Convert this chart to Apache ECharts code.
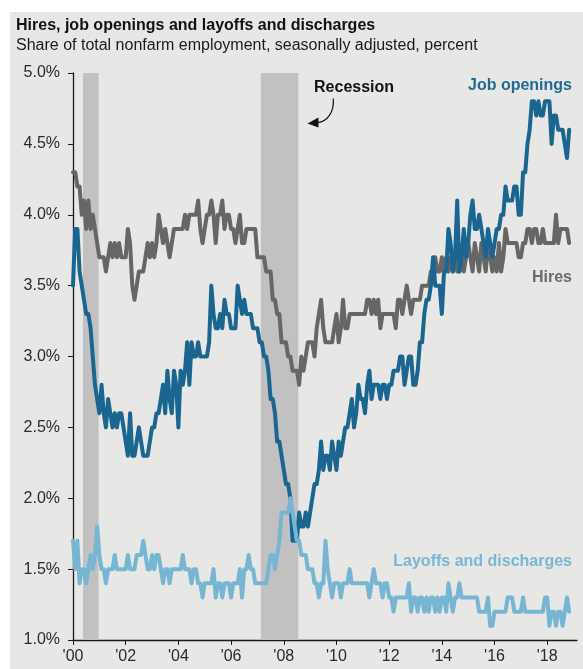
<!DOCTYPE html>
<html>
<head>
<meta charset="utf-8">
<script src="https://cdn.jsdelivr.net/npm/echarts@6/dist/echarts.min.js"></script>
<style>
  html, body { margin: 0; padding: 0; background: #ffffff; }
  #panel { position: absolute; left: 10px; top: 12px; width: 573px; height: 657px; background: #e7e7e5; }
  #chart { position: absolute; left: 0; top: 0; width: 583px; height: 669px; }
</style>
</head>
<body>
<div id="panel"></div>
<div id="chart"></div>
<script>
// Monthly JOLTS rates, % of total nonfarm employment (one row per year, '00 … '18)
const hires = [
  [4.3,4.3,4.2,4.2,4.0,4.1,3.9,4.1,3.9,4.0,3.9,3.8],
  [3.7,3.7,3.7,3.6,3.7,3.8,3.7,3.8,3.7,3.8,3.7,3.7],
  [3.7,3.9,3.8,3.5,3.4,3.5,3.6,3.6,3.6,3.7,3.8,3.7],
  [3.8,3.7,3.8,4.0,3.9,3.8,3.9,3.8,3.7,3.8,3.9,3.9],
  [3.9,3.9,3.9,4.0,3.9,4.0,4.0,4.0,4.0,4.1,3.9,3.8],
  [3.9,4.0,4.0,4.1,4.0,3.8,4.0,4.0,4.1,3.9,4.0,4.0],
  [3.9,3.9,3.8,3.9,4.0,3.8,3.8,3.9,3.9,3.9,3.9,3.9],
  [3.7,3.7,3.7,3.7,3.6,3.6,3.6,3.4,3.4,3.3,3.3,3.1],
  [3.1,3.1,3.0,3.0,2.9,2.9,2.9,2.8,3.0,2.9,3.0,3.1],
  [3.1,3.1,3.0,3.2,3.3,3.4,3.2,3.1,3.1,3.1,3.1,3.2],
  [3.3,3.1,3.2,3.4,3.2,3.2,3.3,3.3,3.3,3.3,3.3,3.3],
  [3.3,3.3,3.4,3.4,3.3,3.4,3.3,3.4,3.2,3.3,3.3,3.3],
  [3.3,3.3,3.3,3.2,3.4,3.4,3.3,3.4,3.5,3.4,3.3,3.4],
  [3.4,3.4,3.4,3.5,3.5,3.5,3.5,3.6,3.6,3.7,3.6,3.6],
  [3.7,3.6,3.7,3.6,3.7,3.6,3.7,3.6,3.6,3.7,3.6,3.7],
  [3.8,3.7,3.6,3.8,3.7,3.6,3.8,3.7,3.6,3.8,3.7,3.6],
  [3.7,3.6,3.8,3.6,3.7,3.9,3.8,3.8,3.8,3.8,3.8,3.7],
  [3.7,3.8,3.8,3.9,3.9,3.8,3.9,3.9,3.8,3.8,3.9,3.8],
  [3.8,3.8,3.8,3.8,4.0,3.8,3.9,3.9,3.9,3.9,3.8]
];
const jobOpenings = [
  [3.5,3.9,3.9,3.6,3.5,3.4,3.3,3.3,3.2,3.0,2.8,2.7],
  [2.6,2.8,2.6,2.5,2.7,2.6,2.5,2.6,2.5,2.6,2.6,2.5],
  [2.4,2.3,2.6,2.3,2.3,2.4,2.5,2.4,2.3,2.3,2.3,2.4],
  [2.5,2.5,2.6,2.6,2.7,2.8,2.6,2.9,2.7,2.6,2.9,2.8],
  [2.5,2.9,2.8,2.9,3.1,2.8,3.1,3.0,3.0,3.1,3.0,3.0],
  [3.0,3.0,3.1,3.5,3.3,3.2,3.2,3.3,3.2,3.4,3.3,3.3],
  [3.2,3.2,3.2,3.5,3.4,3.3,3.4,3.3,3.3,3.3,3.2,3.2],
  [3.2,3.1,3.1,3.0,3.0,2.9,2.7,2.7,2.6,2.4,2.4,2.3],
  [2.2,2.1,2.1,2.0,1.7,1.7,1.7,1.9,1.8,1.8,1.9,1.8],
  [1.9,2.0,2.1,2.1,2.2,2.4,2.2,2.3,2.3,2.2,2.4,2.3],
  [2.2,2.4,2.3,2.4,2.5,2.5,2.6,2.7,2.5,2.6,2.8,2.7],
  [2.7,2.6,2.8,2.9,2.7,2.8,2.8,2.8,2.7,2.8,2.8,2.7],
  [2.8,2.8,2.9,2.9,2.9,3.0,3.0,2.8,2.9,3.0,3.0,2.8],
  [2.8,2.9,3.1,3.1,3.3,3.4,3.4,3.5,3.7,3.5,3.5,3.5],
  [3.3,3.6,3.6,3.9,3.8,3.6,3.7,4.1,3.6,3.7,3.9,3.7],
  [3.8,4.0,4.1,3.9,3.9,4.0,3.9,3.8,3.7,3.9,3.8,3.7],
  [3.8,3.9,3.9,4.0,4.0,4.2,4.1,4.1,4.1,4.2,4.2,4.0],
  [4.0,4.3,4.3,4.5,4.6,4.8,4.8,4.7,4.8,4.7,4.7,4.8],
  [4.8,4.8,4.5,4.7,4.7,4.6,4.6,4.6,4.5,4.4,4.6]
];
const layoffs = [
  [1.7,1.5,1.7,1.4,1.5,1.5,1.4,1.5,1.6,1.5,1.6,1.8],
  [1.6,1.5,1.5,1.4,1.5,1.5,1.5,1.6,1.5,1.5,1.5,1.5],
  [1.5,1.6,1.5,1.5,1.5,1.6,1.6,1.6,1.7,1.6,1.5,1.5],
  [1.6,1.5,1.6,1.6,1.5,1.4,1.5,1.5,1.4,1.5,1.5,1.5],
  [1.5,1.5,1.6,1.5,1.5,1.5,1.4,1.5,1.5,1.4,1.4,1.3],
  [1.4,1.4,1.4,1.4,1.5,1.3,1.4,1.4,1.3,1.4,1.4,1.4],
  [1.3,1.4,1.4,1.4,1.5,1.3,1.5,1.5,1.6,1.5,1.5,1.4],
  [1.4,1.4,1.4,1.4,1.4,1.5,1.6,1.6,1.5,1.6,1.7,1.9],
  [1.9,1.9,1.9,2.0,1.9,1.8,1.7,1.7,1.6,1.6,1.6,1.5],
  [1.5,1.5,1.4,1.4,1.3,1.4,1.4,1.7,1.5,1.4,1.3,1.4],
  [1.4,1.4,1.3,1.4,1.4,1.4,1.5,1.4,1.4,1.4,1.4,1.4],
  [1.4,1.4,1.4,1.3,1.4,1.5,1.4,1.4,1.4,1.3,1.4,1.4],
  [1.3,1.3,1.2,1.3,1.3,1.3,1.3,1.3,1.3,1.4,1.2,1.3],
  [1.3,1.2,1.3,1.3,1.2,1.3,1.2,1.3,1.3,1.2,1.3,1.2],
  [1.3,1.3,1.2,1.4,1.3,1.2,1.3,1.3,1.4,1.3,1.3,1.3],
  [1.3,1.3,1.3,1.3,1.3,1.2,1.2,1.2,1.2,1.3,1.1,1.1],
  [1.2,1.2,1.2,1.2,1.2,1.2,1.3,1.3,1.3,1.2,1.2,1.2],
  [1.2,1.3,1.2,1.2,1.2,1.2,1.2,1.2,1.2,1.2,1.2,1.3],
  [1.3,1.1,1.2,1.2,1.1,1.2,1.2,1.1,1.2,1.3,1.2]
];
const startYear = 2000;
const yearTicks = [2000, 2002, 2004, 2006, 2008, 2010, 2012, 2014, 2016, 2018];
// Shaded recession periods, in axis years
const recessions = [[2000.38, 2000.97], [2007.13, 2008.55]];

const FONT = 'Arial, "Liberation Sans", sans-serif';

function toPoints(rows) {
  const out = [];
  rows.forEach((row, yi) => {
    row.forEach((v, mi) => out.push([startYear + yi + mi / 12, v]));
  });
  return out;
}

const chart = echarts.init(document.getElementById('chart'), null, { renderer: 'canvas' });

const lineSeries = (name, rows, color, z) => ({
  name, type: 'line', data: toPoints(rows), showSymbol: false, symbol: 'none',
  lineStyle: { color, width: 4, join: 'round', cap: 'round' }, z,
  animation: false
});

const option = {
  backgroundColor: 'transparent',
  animation: false,
  textStyle: { fontFamily: FONT },
  grid: { left: 73, right: 6, top: 73, bottom: 29, containLabel: false },
  xAxis: {
    type: 'value', min: 2000, max: 2019.13, interval: 2,
    axisLine: { show: true, lineStyle: { color: '#1a1a1a', width: 1.3 } },
    axisTick: { show: true, length: 5, lineStyle: { color: '#1a1a1a' }, customValues: yearTicks },
    axisLabel: {
      customValues: yearTicks, margin: 9, color: '#2a2a2a', fontSize: 16, fontFamily: FONT,
      formatter: v => "'" + String(Math.round(v) % 100).padStart(2, '0')
    },
    splitLine: { show: false }
  },
  yAxis: {
    type: 'value', min: 1, max: 5, interval: 0.5,
    axisLine: { show: true, lineStyle: { color: '#1a1a1a', width: 1.3 } },
    axisTick: { show: true, length: 5, lineStyle: { color: '#1a1a1a' } },
    axisLabel: { margin: 13, color: '#2a2a2a', fontSize: 16, fontFamily: FONT, formatter: v => v.toFixed(1) + '%' },
    splitLine: { show: false }
  },
  series: [
    Object.assign(lineSeries('Hires', hires, '#666666', 3), {
      markArea: {
        silent: true,
        itemStyle: { color: '#c1c1c1' },
        data: recessions.map(r => [{ xAxis: r[0] }, { xAxis: r[1] }]),
        z: 1
      }
    }),
    lineSeries('Job openings', jobOpenings, '#1b6690', 4),
    lineSeries('Layoffs and discharges', layoffs, '#77b6d3', 5)
  ]
};
chart.setOption(option);

// Titles, series labels and the recession callout
const p = (x, y) => chart.convertToPixel({ gridIndex: 0 }, [x, y]);
const arrowStart = p(2009.88, 4.82);
const arrowEnd = p(2008.9, 4.65);
const recLabel = p(2009.15, 4.90);
chart.setOption({
  graphic: [
    { type: 'text', left: 16, top: 18, style: { text: 'Hires, job openings and layoffs and discharges', font: 'bold 16px ' + FONT, fill: '#111111' } },
    { type: 'text', left: 16, top: 38, style: { text: 'Share of total nonfarm employment, seasonally adjusted, percent', font: '16px ' + FONT, fill: '#1a1a1a' } },
    { type: 'text', x: recLabel[0], y: recLabel[1], style: { text: 'Recession', font: 'bold 16px ' + FONT, fill: '#111111', textVerticalAlign: 'middle' } },
    { type: 'bezierCurve', shape: {
        x1: arrowStart[0], y1: arrowStart[1],
        cpx1: arrowStart[0] + 1, cpy1: arrowStart[1] + 14,
        cpx2: arrowStart[0] - 6, cpy2: arrowEnd[1] - 1,
        x2: arrowEnd[0] + 10, y2: arrowEnd[1] },
      style: { stroke: '#111111', lineWidth: 1.2, fill: null } },
    { type: 'polygon', shape: { points: [
        [arrowEnd[0], arrowEnd[1] + 1], [arrowEnd[0] + 11, arrowEnd[1] - 5], [arrowEnd[0] + 11, arrowEnd[1] + 5]] },
      style: { fill: '#111111' } },
    { type: 'text', x: 572, y: 86, style: { text: 'Job openings', font: 'bold 16px ' + FONT, fill: '#1f6b95', textAlign: 'right', textVerticalAlign: 'middle' } },
    { type: 'text', x: 572, y: 278, style: { text: 'Hires', font: 'bold 16px ' + FONT, fill: '#6b6b6b', textAlign: 'right', textVerticalAlign: 'middle' } },
    { type: 'text', x: 572, y: 562, style: { text: 'Layoffs and discharges', font: 'bold 16px ' + FONT, fill: '#7ab7d3', textAlign: 'right', textVerticalAlign: 'middle' } }
  ]
});
</script>
</body>
</html>
